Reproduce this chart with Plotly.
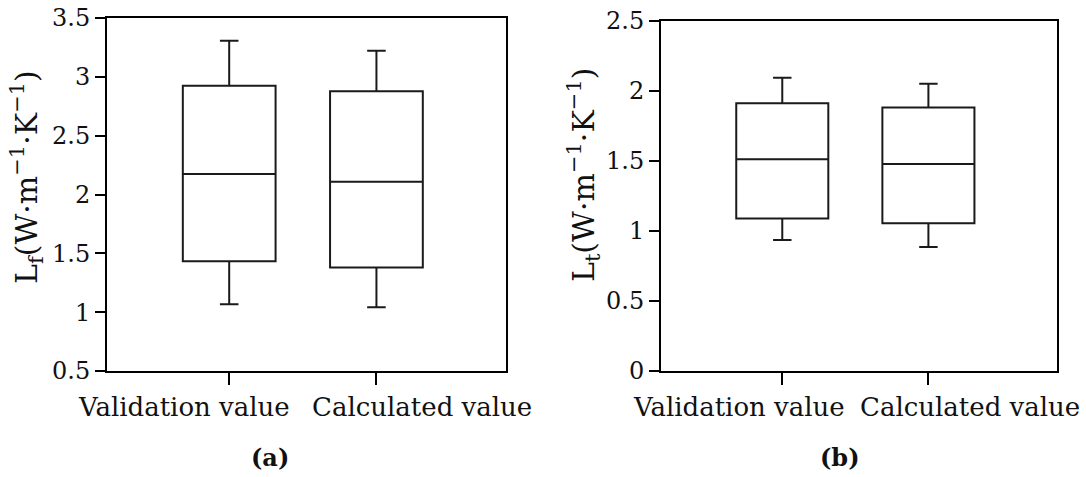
import plotly.graph_objects as go

categories = ["Validation value", "Calculated value"]

# Panel (a): L_f
a_lower = [1.067, 1.042]
a_q1 = [1.433, 1.379]
a_median = [2.175, 2.109]
a_q3 = [2.925, 2.877]
a_upper = [3.307, 3.222]

# Panel (b): L_t
b_lower = [0.936, 0.886]
b_q1 = [1.090, 1.055]
b_median = [1.512, 1.479]
b_q3 = [1.912, 1.883]
b_upper = [2.095, 2.052]

FONT = "DejaVu Serif"
LINE = "#1a1a1a"
TXT = "#111"

fig = go.Figure()

box_style = dict(fillcolor="white", line=dict(color=LINE, width=2),
                 whiskerwidth=0.2, width=0.63, boxpoints=False,
                 showlegend=False, hoverinfo="skip")

fig.add_trace(go.Box(x=categories, q1=a_q1, median=a_median, q3=a_q3,
                     lowerfence=a_lower, upperfence=a_upper,
                     xaxis="x", yaxis="y", **box_style))
fig.add_trace(go.Box(x=categories, q1=b_q1, median=b_median, q3=b_q3,
                     lowerfence=b_lower, upperfence=b_upper,
                     xaxis="x2", yaxis="y2", **box_style))

W, H = 1086, 477

def xdom(l, r):
    return [l / W, r / W]

def ydom(t, b):
    return [1 - b / H, 1 - t / H]

axis_common = dict(showline=True, linecolor="black", linewidth=2, mirror=True,
                   ticks="outside", tickwidth=2, tickcolor="black",
                   showgrid=False, zeroline=False, automargin=False)

fig.update_layout(
    width=W, height=H,
    margin=dict(l=0, r=0, t=0, b=0, autoexpand=False),
    paper_bgcolor="white", plot_bgcolor="white",
    font=dict(family=FONT, color=TXT),
    xaxis=dict(domain=xdom(107, 506), anchor="y", type="category",
               range=[-0.83, 1.88], ticklen=12, showticklabels=False,
               **axis_common),
    yaxis=dict(domain=ydom(18, 371), anchor="x", range=[0.5, 3.5], dtick=0.5,
               ticklen=10, tickfont=dict(size=24, family=FONT, color=TXT),
               **axis_common),
    xaxis2=dict(domain=xdom(661, 1057), anchor="y2", type="category",
                range=[-0.83, 1.88], ticklen=12, showticklabels=False,
                **axis_common),
    yaxis2=dict(domain=ydom(21, 371), anchor="x2", range=[0, 2.5], dtick=0.5,
                ticklen=10, tickfont=dict(size=24, family=FONT, color=TXT),
                **axis_common),
)

annotations = [
    dict(text="L<sub>f</sub>(W·m<sup>−1</sup>·K<sup>−1</sup>)", x=27 / W, y=1 - 177 / H,
         textangle=-90, font=dict(size=30, family=FONT, color=TXT)),
    dict(text="L<sub>t</sub>(W·m<sup>−1</sup>·K<sup>−1</sup>)", x=583 / W, y=1 - 175 / H,
         textangle=-90, font=dict(size=30, family=FONT, color=TXT)),
    dict(text="<b>(a)</b>", x=270 / W, y=1 - 457 / H,
         font=dict(size=24, family=FONT, color=TXT)),
    dict(text="<b>(b)</b>", x=840 / W, y=1 - 457 / H,
         font=dict(size=24, family=FONT, color=TXT)),
]
# category labels, spread apart as in the reference
label_centers = [[183.5, 421.5], [739, 970]]
for centers in label_centers:
    for cat, cx in zip(categories, centers):
        annotations.append(dict(text=cat, x=cx / W, y=1 - 407 / H,
                                font=dict(size=26, family=FONT, color=TXT)))
for a in annotations:
    a.update(xref="paper", yref="paper", xanchor="center", yanchor="middle",
             showarrow=False)
fig.update_layout(annotations=annotations)

fig.write_html("out.html")
